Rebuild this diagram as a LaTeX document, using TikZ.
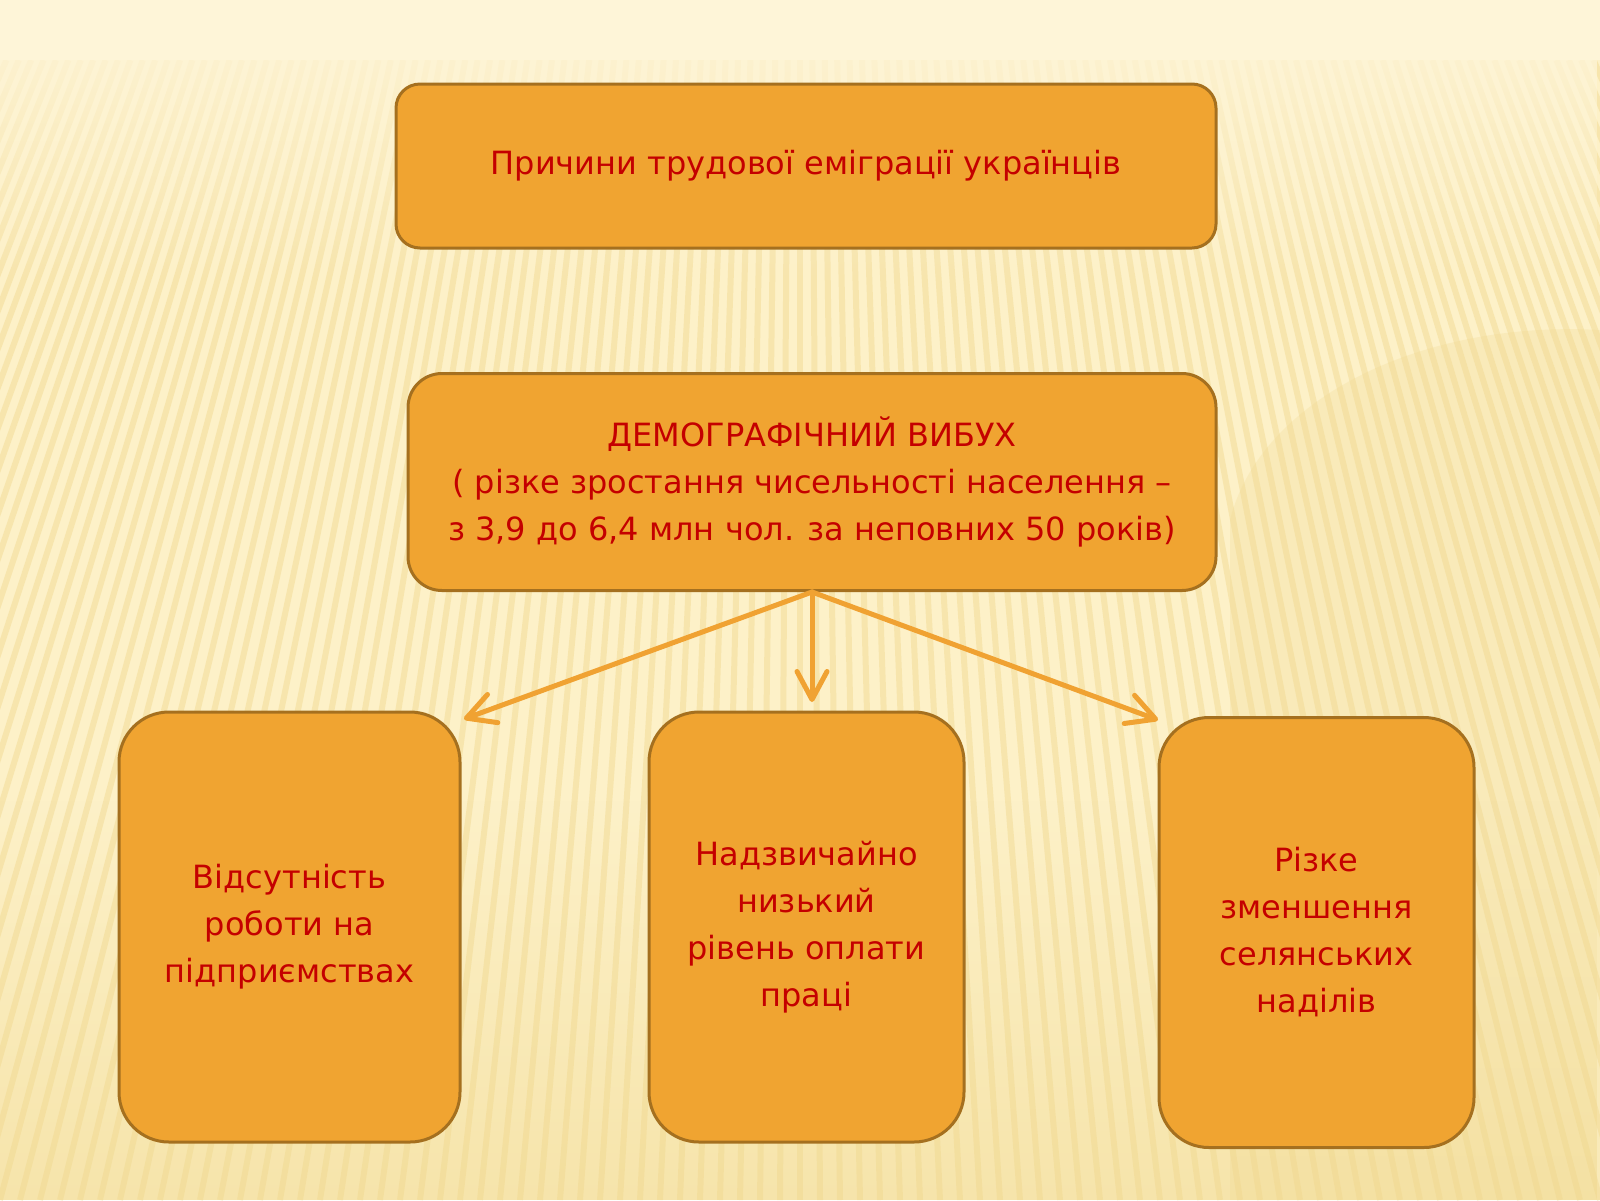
\documentclass[tikz,border=0pt]{standalone}
\usepackage{fontspec}
\setmainfont{DejaVu Sans}
\usepackage{tikz}
\usepackage{xcolor}
\usetikzlibrary{arrows.meta,fadings}

\definecolor{cream}{HTML}{FDF1C8}
\definecolor{creamtop}{HTML}{FEF5D8}
\definecolor{stripe}{HTML}{F0D88E}
\definecolor{boxfill}{HTML}{F0A431}
\definecolor{boxline}{HTML}{A5701F}
\definecolor{textred}{HTML}{C40000}
\definecolor{arrowc}{HTML}{F0A232}

\begin{document}
\begin{tikzpicture}[x=0.5pt,y=-0.5pt,font=\fontsize{16}{23.5}\selectfont,
    base/.style={rectangle,rounded corners=12pt,draw=boxline,line width=1.5pt,fill=boxfill,
        text=textred,align=center,inner sep=0pt},
    cause/.style={base,rounded corners=25pt,minimum width=157.5pt,minimum height=215pt},
    link/.style={draw=arrowc,line width=2.5pt,line cap=round,
        -{Straight Barb[length=14pt,width=15pt,round]}}]

    % background
    \useasboundingbox (0,0) rectangle (1600,1200);
    \fill[cream] (0,0) rectangle (1600,1200);
    \foreach \i in {-24,...,104}
    {
        \pgfmathsetmacro\xb{\i*20}
        \pgfmathsetmacro\xt{\xb+0.38*(800-\xb)}
        \draw[stripe,line width=3pt,opacity=0.45] (\xb,1200) -- (\xt,60);
    }
    \fill[stripe,opacity=0.25] (1600,330) .. controls (1420,320) and (1260,400) .. (1230,520)
        -- (1230,1200) -- (1600,1200) -- cycle;
    \fill[stripe,opacity=0.5,path fading=north] (0,800) rectangle (1600,1200);
    \fill[creamtop,path fading=south] (0,0) rectangle (1600,280);
    \fill[creamtop] (0,0) rectangle (1600,60);

    \node[base,minimum width=410pt,minimum height=82pt] (title) at (806,166)
    {Причини трудової еміграції українців};

    \node[base,rounded corners=17pt,minimum width=404pt,minimum height=108.5pt] (boom) at (812,482)
    {ДЕМОГРАФІЧНИЙ ВИБУХ\\( різке зростання чисельності населення –\\з 3,9 до 6,4 млн чол. за неповних 50 років)};

    \node[cause,minimum width=170.5pt] (work) at (289.5,927)
    {Відсутність\\роботи на\\підприємствах};
    \node[cause] (wage) at (806.5,927)
    {Надзвичайно\\низький\\рівень оплати\\праці};
    \node[cause] (land) at (1316.5,932.5)
    {Різке\\зменшення\\селянських\\наділів};

    \coordinate (tipL) at (464,719);
    \coordinate (tipM) at (812,702);
    \coordinate (tipR) at (1158,720);

    \draw[link] (boom.south) -- (tipL);
    \draw[link] (boom.south) -- (tipM);
    \draw[link] (boom.south) -- (tipR);
\end{tikzpicture}
\end{document}
